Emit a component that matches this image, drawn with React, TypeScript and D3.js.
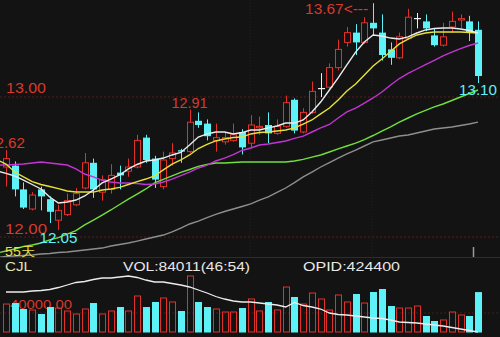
import React from 'react';
import * as d3 from 'd3';

// ---- data ----
const opens = [12.50,12.51,12.34,12.20,12.34,12.27,12.12,12.16,12.23,12.35,12.53,12.32,12.34,12.46,12.47,12.50,12.71,12.56,12.36,12.56,12.62,12.61,12.83,12.81,12.69,12.68,12.69,12.75,12.67,12.78,12.80,12.74,12.79,12.98,12.75,12.89,13.06,13.07,13.21,13.39,13.46,13.39,13.53,13.46,13.34,13.28,13.42,13.56,13.54,13.44,13.37,13.50,13.55,13.54,13.48];
const closes = [12.56,12.34,12.21,12.30,12.29,12.18,12.19,12.26,12.31,12.53,12.34,12.41,12.44,12.44,12.50,12.69,12.55,12.41,12.55,12.60,12.61,12.82,12.80,12.72,12.71,12.71,12.73,12.64,12.80,12.79,12.74,12.79,12.96,12.76,12.89,13.04,13.06,13.21,13.34,13.46,13.39,13.53,13.49,13.30,13.28,13.43,13.57,13.56,13.49,13.37,13.43,13.54,13.56,13.46,13.15];
const highs = [12.62,12.54,12.39,12.32,12.36,12.29,12.23,12.31,12.35,12.60,12.56,12.44,12.52,12.51,12.56,12.73,12.73,12.58,12.61,12.67,12.63,12.91,12.89,12.84,12.81,12.75,12.81,12.77,12.87,12.86,12.89,12.84,13.01,12.99,12.92,13.11,13.17,13.24,13.41,13.50,13.52,13.57,13.67,13.59,13.39,13.46,13.63,13.60,13.59,13.49,13.53,13.61,13.59,13.58,13.54];
const lows = [12.36,12.29,12.20,12.19,12.19,12.10,12.05,12.15,12.22,12.34,12.28,12.26,12.31,12.34,12.43,12.49,12.53,12.35,12.34,12.51,12.53,12.60,12.78,12.69,12.61,12.66,12.68,12.59,12.64,12.73,12.67,12.73,12.78,12.74,12.74,12.88,13.00,13.06,13.19,13.36,13.30,13.38,13.44,13.26,13.23,13.27,13.41,13.49,13.47,13.36,13.36,13.46,13.49,13.40,13.10];
const volumes = [58900,61000,48400,46300,37900,52600,50500,44200,37900,48400,61000,37900,44200,52600,44200,75800,52600,63200,71600,63200,44200,117900,63200,52600,48400,42100,42100,50500,69500,44200,63200,46300,94700,73700,58900,82100,69500,46300,77900,63200,80000,61000,84200,90500,54700,50500,50500,54700,33700,23200,25300,42100,35800,33700,84011];
const opid = [504400,504400,504400,506400,507400,509400,513400,518400,523400,525400,529400,532400,532400,534400,536400,533400,528400,524400,524400,521400,518400,514400,508400,502400,495400,490400,486400,484400,484400,482400,480400,478400,474400,483400,477400,474400,470400,462400,459400,458400,456400,454400,452400,451400,448400,444400,443400,442400,440400,438400,436400,433400,430400,427400,424400];
// moving averages; first value belongs to the day before the first candle
const ma5 = [12.472,12.454,12.436,12.407,12.375,12.343,12.286,12.243,12.250,12.264,12.293,12.336,12.386,12.414,12.443,12.486,12.518,12.543,12.550,12.564,12.586,12.604,12.657,12.714,12.736,12.750,12.750,12.736,12.746,12.764,12.764,12.779,12.793,12.814,12.814,12.836,12.893,12.964,13.050,13.136,13.229,13.321,13.393,13.443,13.436,13.421,13.414,13.429,13.457,13.479,13.489,13.493,13.493,13.486,13.475,13.457];
const ma10 = [12.550,12.521,12.464,12.429,12.396,12.375,12.361,12.346,12.329,12.321,12.321,12.321,12.336,12.343,12.354,12.375,12.396,12.414,12.436,12.479,12.521,12.550,12.586,12.632,12.661,12.686,12.700,12.711,12.714,12.736,12.746,12.750,12.757,12.764,12.779,12.807,12.836,12.879,12.921,12.979,13.043,13.093,13.157,13.221,13.271,13.325,13.379,13.414,13.443,13.457,13.464,13.464,13.464,13.464,13.461,13.457];
const ma20 = [12.514,12.514,12.518,12.521,12.529,12.536,12.529,12.521,12.514,12.486,12.450,12.429,12.404,12.393,12.386,12.386,12.382,12.375,12.379,12.393,12.414,12.439,12.464,12.493,12.514,12.543,12.564,12.589,12.618,12.636,12.657,12.664,12.675,12.686,12.704,12.721,12.750,12.779,12.804,12.850,12.893,12.921,12.957,12.993,13.036,13.086,13.132,13.168,13.200,13.232,13.261,13.293,13.321,13.346,13.368,13.386];
const ma30 = [11.886,11.900,11.914,11.932,11.943,11.957,11.979,11.996,12.021,12.046,12.086,12.121,12.157,12.193,12.232,12.271,12.307,12.343,12.386,12.411,12.436,12.461,12.482,12.504,12.518,12.529,12.529,12.532,12.536,12.536,12.536,12.536,12.536,12.536,12.543,12.554,12.571,12.586,12.607,12.629,12.650,12.671,12.696,12.725,12.757,12.786,12.821,12.850,12.879,12.904,12.929,12.950,12.975,13.000,13.025,13.050];
const ma55 = [11.854,11.861,11.864,11.868,11.871,11.879,11.882,11.889,11.893,11.900,11.907,11.914,11.921,11.936,11.946,11.957,11.971,11.986,12.000,12.014,12.036,12.064,12.093,12.114,12.139,12.161,12.182,12.200,12.218,12.236,12.264,12.286,12.318,12.350,12.389,12.429,12.464,12.500,12.532,12.564,12.593,12.621,12.650,12.679,12.693,12.707,12.721,12.729,12.743,12.757,12.771,12.779,12.786,12.796,12.807,12.821];
const priceGrid = [12, 13];
const volGrid = [40000];

const RED = '#e4302a';
const CYAN = '#5cf2f8';
const TXT_RED = '#d9392b';
const BG = '#131313';
const FONT = 'Liberation Sans, Arial, sans-serif';

export default function App() {
  const W = 500, H = 337;
  const n = closes.length;
  const x = d3.scaleLinear().domain([0, n - 1]).range([6, 478]);
  const y = d3.scaleLinear().domain([12, 13]).range([237, 97]);
  const yVol = d3.scaleLinear().domain([0, 40000]).range([332, 313]);
  const yOp = d3.scaleLinear().domain([424400, 544400]).range([332, 272]);
  const maLine = d3.line<number>().x((_, i) => x(i - 1)).y(d => y(d));
  const opLine = d3.line<number>().x((_, i) => x(i)).y(d => yOp(d));
  const bw = 6;

  const hiIdx = d3.maxIndex(highs);
  const loIdx = d3.minIndex(lows);
  const last = n - 1;
  const fmt = d3.format('.2f');

  const mas: [number[], string][] = [
    [ma55, '#8e8e8e'],
    [ma30, '#72e03c'],
    [ma20, '#c433d4'],
    [ma10, '#e6e23a'],
    [ma5, '#ececec'],
  ];

  return (
    <svg width={W} height={H} style={{ position: 'absolute', left: 0, top: 0, background: BG }} fontFamily={FONT}>
      <defs>
        <clipPath id="mainClip"><rect x={0} y={0} width={W} height={257} /></clipPath>
      </defs>
      <rect x={0} y={0} width={W} height={H} fill={BG} />
      {/* grid */}
      {priceGrid.map(p => (
        <line key={p} x1={0} x2={W} y1={y(p)} y2={y(p)} stroke="#5a1c18" strokeDasharray="2,2" />
      ))}
      {[250, 372].map(v => (
        <line key={v} x1={v} x2={v} y1={0} y2={257} stroke="#2e1a18" strokeDasharray="1,2" />
      ))}
      <line x1={0} x2={W} y1={257.5} y2={257.5} stroke="#5a1a16" />
      {volGrid.map(v => (
        <line key={v} x1={0} x2={W} y1={yVol(v)} y2={yVol(v)} stroke="#4a1a16" strokeDasharray="2,2" />
      ))}
      {/* price labels */}
      <text x={6} y={y(13) - 4} fill={TXT_RED} fontSize={14} textLength={40} lengthAdjust="spacingAndGlyphs">{fmt(13)}</text>
      <text x={5} y={y(12) - 3} fill={TXT_RED} fontSize={14} textLength={42} lengthAdjust="spacingAndGlyphs">{fmt(12)}</text>

      {/* candles */}
      <g clipPath="url(#mainClip)">
        {closes.map((c, i) => {
          const o = opens[i];
          const col = c > o ? RED : c < o ? CYAN : '#f0f0f0';
          const cx = Math.round(x(i)) + 0.5;
          const top = y(Math.max(o, c));
          const bot = y(Math.min(o, c));
          const h = Math.max(bot - top, 1);
          return (
            <g key={i}>
              <line x1={cx} x2={cx} y1={y(highs[i])} y2={y(lows[i])} stroke={col} strokeWidth={1} />
              {c > o ? (
                <rect x={cx - bw / 2} y={top} width={bw} height={h} fill={BG} stroke={col} strokeWidth={1} />
              ) : c < o ? (
                <rect x={cx - bw / 2 - 0.5} y={top} width={bw + 1} height={h} fill={col} />
              ) : (
                <line x1={cx - bw / 2 - 0.5} x2={cx + bw / 2 + 0.5} y1={top} y2={top} stroke={col} strokeWidth={1.2} />
              )}
            </g>
          );
        })}
        {mas.map(([arr, col], k) => (
          <path key={k} d={maLine(arr) || ''} fill="none" stroke={col} strokeWidth={1.4} />
        ))}
      </g>

      {/* marker labels */}
      <text x={x(hiIdx) - 5} y={y(highs[hiIdx]) + 11} fill={TXT_RED} fontSize={14} textAnchor="end" textLength={63} lengthAdjust="spacingAndGlyphs">{fmt(highs[hiIdx]) + '<---'}</text>
      <text x={x(21)} y={y(highs[21]) - 2} fill={TXT_RED} fontSize={14} textAnchor="middle" textLength={36} lengthAdjust="spacingAndGlyphs">{fmt(highs[21])}</text>
      <text x={25} y={y(highs[0]) - 2} fill={TXT_RED} fontSize={14} textAnchor="end" textLength={38} lengthAdjust="spacingAndGlyphs">{fmt(highs[0])}</text>
      <text x={x(loIdx)} y={y(lows[loIdx]) + 13} fill={CYAN} fontSize={14} textAnchor="middle" textLength={38} lengthAdjust="spacingAndGlyphs">{fmt(lows[loIdx])}</text>
      <text x={x(last)} y={y(lows[last]) + 12} fill={CYAN} fontSize={14} textAnchor="middle" textLength={38} lengthAdjust="spacingAndGlyphs">{fmt(lows[last])}</text>
      <text x={5} y={256} fill="#e6e04a" fontSize={13} textLength={30} lengthAdjust="spacingAndGlyphs">55天</text>
      <line x1={473.5} x2={473.5} y1={247} y2={257} stroke="#9a9a9a" strokeWidth={1.5} />

      {/* volume panel */}
      <text x={5} y={271} fill="#e2e2b0" fontSize={12} textLength={27} lengthAdjust="spacingAndGlyphs">CJL</text>
      <text x={123} y={271} fill="#e8e8e8" fontSize={12} textLength={127} lengthAdjust="spacingAndGlyphs">{'VOL:' + volumes[last] + '(46:54)'}</text>
      <text x={303} y={271} fill="#e8e8e8" fontSize={12} textLength={97} lengthAdjust="spacingAndGlyphs">{'OPID:' + opid[last]}</text>
      <text x={10} y={309} fill={TXT_RED} fontSize={12} textLength={62} lengthAdjust="spacingAndGlyphs">{fmt(volGrid[0])}</text>
      {volumes.map((v, i) => {
        const up = closes[i] >= opens[i];
        const cx = Math.round(x(i)) + 0.5;
        const top = yVol(v);
        return up ? (
          <rect key={i} x={cx - 3} y={top} width={6} height={332 - top} fill="none" stroke={RED} strokeWidth={1} />
        ) : (
          <rect key={i} x={cx - 3.5} y={top} width={7} height={332.5 - top} fill={CYAN} />
        );
      })}
      <path d={opLine(opid) || ''} fill="none" stroke="#ececec" strokeWidth={1.3} />
    </svg>
  );
}
